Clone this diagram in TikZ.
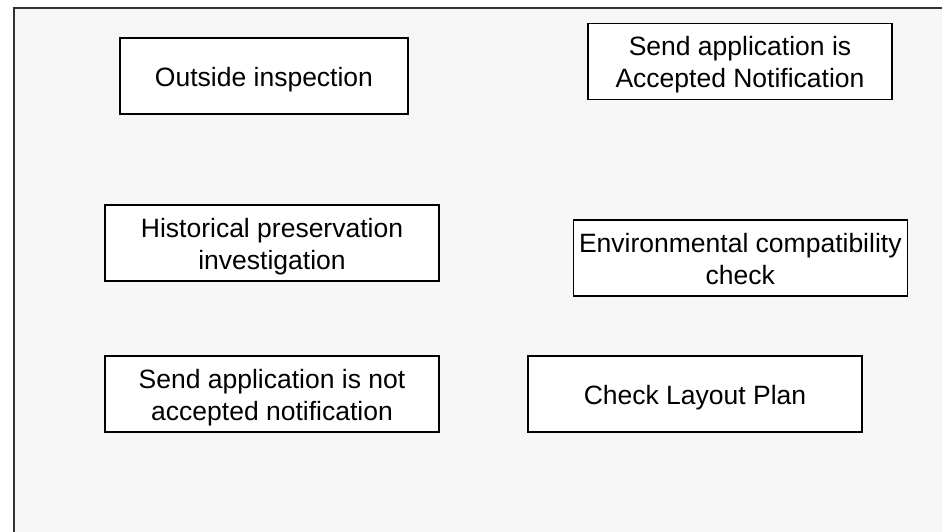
\documentclass[tikz,border=0pt]{standalone}
\usepackage{fontspec}
\setmainfont{Liberation Sans}
\definecolor{panelbg}{HTML}{F7F7F7}
\definecolor{framec}{HTML}{333333}
\newcommand{\twolines}[2]{\begin{tabular}[t]{@{}c@{}}#1\\#2\end{tabular}}
\begin{document}
\begin{tikzpicture}[x=1pt,y=-1pt,
  taskbox/.style={draw=black, line width=1.6pt, fill=white, inner sep=0pt,
    minimum width=#1, minimum height=76pt,
    font=\fontsize{26.5}{32}\selectfont},
  taskbox/.default=334pt,
  oneline/.style={text height=21pt, text depth=0pt},
  twoline/.style={text height=0pt, text depth=12pt}]
\useasboundingbox (0,0) rectangle (942,532);
\fill[white] (0,0) rectangle (942,532);
\fill[panelbg] (14,8) rectangle (945,535);
\draw[framec, line width=1.6pt] (14,540) -- (14,8) -- (950,8);
\node[taskbox=288pt, oneline] (outside) at (264,76) {Outside inspection\ };
\node[taskbox=304pt, twoline] (accepted) at (740,61.5) {\twolines{Send application is\ }{Accepted Notification}};
\node[taskbox, twoline] (historical) at (272,243) {\twolines{Historical preservation}{investigation}};
\node[taskbox, twoline] (environmental) at (740.3,258) {\twolines{Environmental compatibility}{check}};
\node[taskbox, twoline] (notaccepted) at (272,394) {\twolines{Send application is not\ }{accepted notification}};
\node[taskbox, oneline] (layout) at (695,394) {Check Layout Plan};
\end{tikzpicture}
\end{document}
